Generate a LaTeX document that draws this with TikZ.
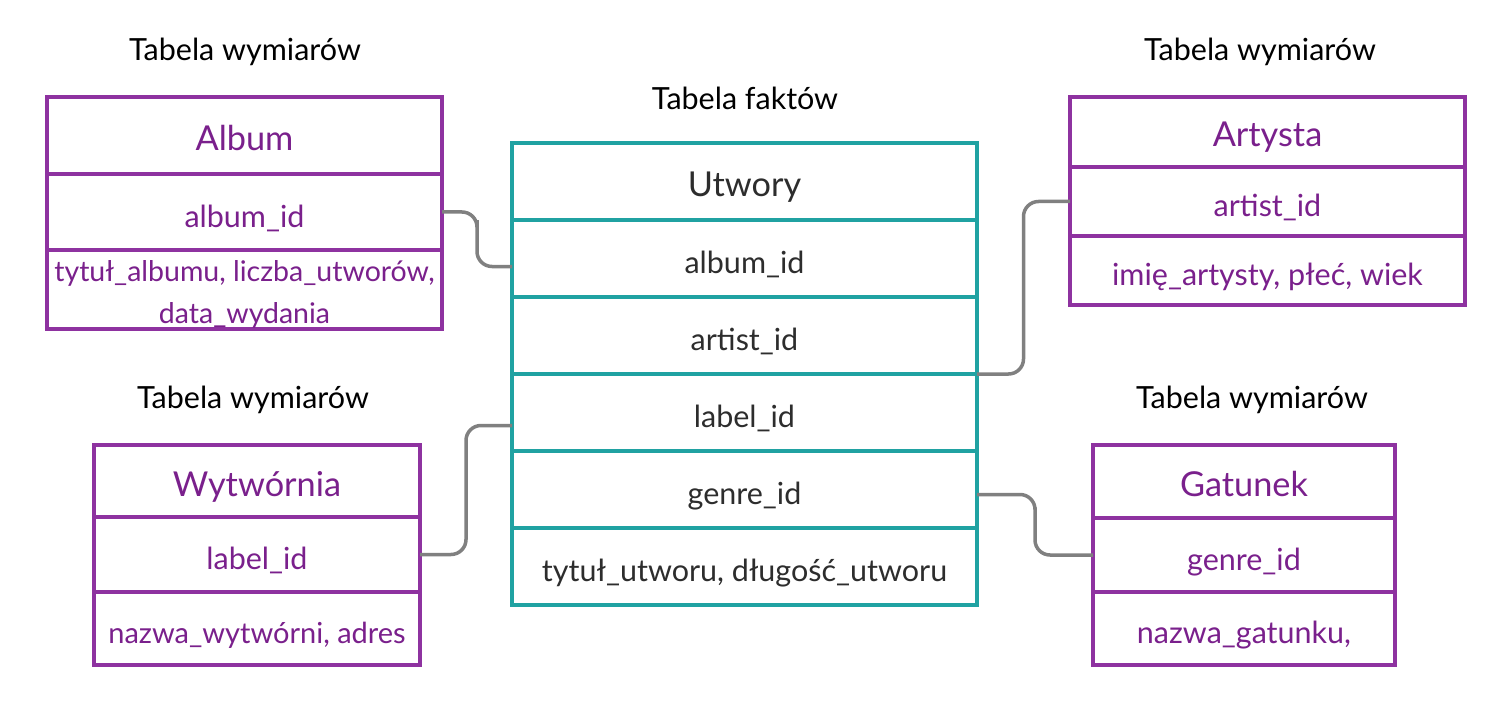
\documentclass[tikz,border=0pt]{standalone}
\usepackage{fontspec}
\setmainfont{Lato}
\usetikzlibrary{positioning, calc}
\definecolor{dimpurple}{RGB}{142,50,160}
\definecolor{dimtext}{RGB}{122,32,140}
\definecolor{factteal}{RGB}{32,162,162}
\definecolor{facttext}{RGB}{45,45,45}
\definecolor{linkgray}{RGB}{128,128,128}
\newcommand\tabhead{\fontsize{34.3}{40}\selectfont}
\newcommand\tabrow{\fontsize{30.5}{42}\selectfont}
\newcommand\tabcap{\fontsize{30.5}{36}\selectfont}

\begin{document}
\begin{tikzpicture}[x=1pt, y=-1pt,
  cell/.style={draw, line width=3.5pt, outer sep=0pt, inner sep=2pt, align=center, fill=white, text height=30pt, text depth=0pt},
  dim/.style={cell, draw=dimpurple, text=dimtext, font=\tabrow},
  fact/.style={cell, draw=factteal, text=facttext, minimum width=465pt, minimum height=77pt, font=\tabrow},
  caption/.style={font=\tabcap, text=black},
  link/.style={draw=linkgray, line width=3.5pt, rounded corners=15pt},
]
  \useasboundingbox (0,0) rectangle (1488,714);

  \node[caption] (capu) at (745,98)  {Tabela faktów};
  \node[caption] (capa) at (245,52)  {Tabela wymiarów};
  \node[caption] (capr) at (1260,52) {Tabela wymiarów};
  \node[caption] (capw) at (253,400) {Tabela wymiarów};
  \node[caption] (capg) at (1252,400){Tabela wymiarów};

  % fact table
  \node[fact, font=\tabhead, anchor=north] (u1) at (744.5,143) {Utwory};
  \node[fact, below=0 of u1] (u2) {album\_id};
  \node[fact, below=0 of u2] (u3) {artist\_id};
  \node[fact, below=0 of u3] (u4) {label\_id};
  \node[fact, below=0 of u4] (u5) {genre\_id};
  \node[fact, below=0 of u5] (u6) {tytuł\_utworu, długość\_utworu};

  % dimension tables
  \node[dim, font=\tabhead, minimum width=395pt, minimum height=77pt, anchor=north] (a1) at (244.5,97) {Album};
  \node[dim, minimum width=395pt, minimum height=76pt, below=0 of a1] (a2) {album\_id};
  \node[dim, font=\fontsize{28.5}{42}\selectfont, text height=67pt, minimum width=395pt, minimum height=79pt, below=0 of a2] (a3) {tytuł\_albumu, liczba\_utworów,\\data\_wydania};

  \node[dim, font=\tabhead, minimum width=395pt, minimum height=70pt, anchor=north] (r1) at (1267.5,97) {Artysta};
  \node[dim, minimum width=395pt, minimum height=69pt, below=0 of r1] (r2) {artist\_id};
  \node[dim, minimum width=395pt, minimum height=69pt, below=0 of r2] (r3) {imię\_artysty, płeć, wiek};

  \node[dim, font=\tabhead, minimum width=326pt, minimum height=72pt, anchor=north] (w1) at (257,445) {Wytwórnia};
  \node[dim, minimum width=326pt, minimum height=75pt, below=0 of w1] (w2) {label\_id};
  \node[dim, font=\fontsize{29}{42}\selectfont, minimum width=326pt, minimum height=73pt, below=0 of w2] (w3) {nazwa\_wytwórni, adres};

  \node[dim, font=\tabhead, minimum width=302pt, minimum height=73pt, anchor=north] (g1) at (1244,445) {Gatunek};
  \node[dim, minimum width=302pt, minimum height=74pt, below=0 of g1] (g2) {genre\_id};
  \node[dim, minimum width=302pt, minimum height=73pt, below=0 of g2] (g3) {nazwa\_gatunku,};

  \draw[link] (a2.east) -| ($(a2.east)!0.5!(u2.west)$) |- ([yshift=-8pt]u2.west);
  \draw[link] (u3.south east) -| ($(u3.south east)!0.5!(r2.west)$) |- (r2.west);
  \draw[link] (w2.east) -| ($(w2.east)!0.5!(u4.west)$) |- ([yshift=-13pt]u4.west);
  \draw[link] ([yshift=-5pt]u5.east) -| ($(u5.east)!0.5!(g2.west)$) |- (g2.west);
\end{tikzpicture}
\end{document}
